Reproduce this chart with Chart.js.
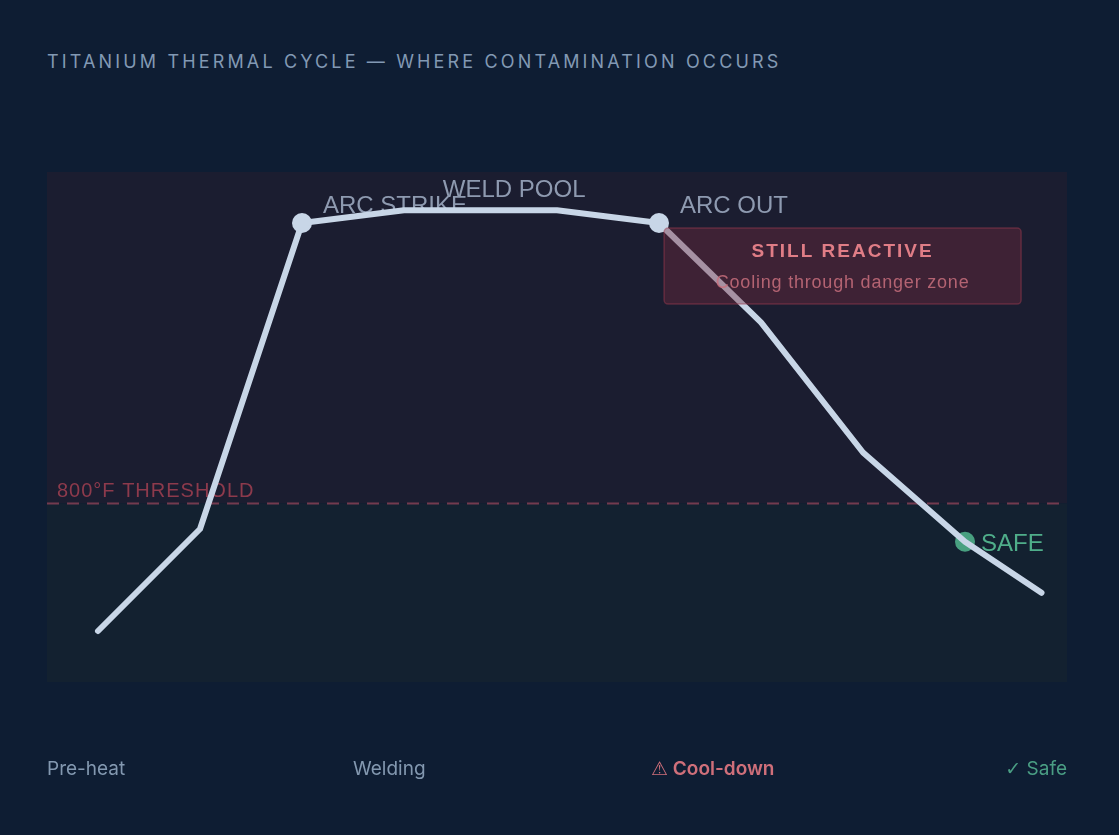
<!DOCTYPE html>
<html>
<head>
<meta charset="utf-8">
<script src="https://cdn.jsdelivr.net/npm/chart.js@4"></script>
<style>
  html, body { margin: 0; padding: 0; background: #0e1d33; }
  body { width: 1119px; height: 835px; position: relative; overflow: hidden; font-family: Inter, "Noto Sans", sans-serif; }
  #title { position: absolute; left: 47px; top: 51px; font-size: 18px; letter-spacing: 3.15px; color: #8299b3; white-space: nowrap; }
  #wrap { position: absolute; left: 0; top: 0; width: 1119px; height: 835px; }
  .phase { position: absolute; top: 757px; font-size: 19px; color: #8398b0; white-space: nowrap; }
  .cool { color: #cf6f7a; font-weight: 600; }
  .cool span { font-family: "DejaVu Sans", sans-serif; font-weight: normal; font-size: 19px; }
  .safe { color: #4a9e84; }
  .safe span { font-family: "DejaVu Sans", sans-serif; font-size: 19px; }
</style>
</head>
<body>
<div id="title">TITANIUM THERMAL CYCLE — WHERE CONTAMINATION OCCURS</div>
<div id="wrap"><canvas id="cycleChart"></canvas></div>
<div class="phase" style="left:47px">Pre-heat</div>
<div class="phase" style="left:353px">Welding</div>
<div class="phase cool" style="left:651px"><span>⚠</span> Cool-down</div>
<div class="phase safe" style="right:52px"><span>✓</span> Safe</div>
<script>
// position along the cycle (0-100) and relative heat (0-100)
const cycleX = [5, 15, 25, 35, 50, 60, 70, 80, 90, 97.5];
const heat = [10, 30, 90, 92.5, 92.5, 90, 70.5, 45, 27.5, 17.5];
const threshold = 35;

// marked events on the curve
const eventLabels = ['ARC STRIKE', 'ARC OUT', 'SAFE'];
const eventX = [25, 60, 90];
const eventY = [90, 90, 27.5];

const lineColor = '#c8d6e7';
const safeColor = '#4fae8a';

const zonesPlugin = {
    id: 'zones',
    beforeDatasetsDraw(chart) {
        const { ctx, chartArea: a, scales: { x, y } } = chart;
        const ty = y.getPixelForValue(threshold);
        ctx.save();
        // danger zone above threshold, safe zone below
        ctx.fillStyle = '#1b1d30';
        ctx.fillRect(a.left, a.top, a.right - a.left, ty - a.top);
        ctx.fillStyle = '#132130';
        ctx.fillRect(a.left, ty, a.right - a.left, a.bottom - ty);

        ctx.strokeStyle = 'rgba(150, 70, 90, 0.75)';
        ctx.lineWidth = 2;
        ctx.setLineDash([12, 8]);
        ctx.beginPath();
        ctx.moveTo(a.left, ty);
        ctx.lineTo(a.right, ty);
        ctx.stroke();
        ctx.setLineDash([]);

        ctx.font = '20px "Liberation Sans", Arial, sans-serif';
        ctx.letterSpacing = '1px';
        ctx.fillStyle = '#8d3a4c';
        ctx.textBaseline = 'alphabetic';
        ctx.fillText('800°F THRESHOLD', a.left + 10, ty - 7);
        ctx.letterSpacing = '0px';

        // point labels
        ctx.font = '24px "Liberation Sans", Arial, sans-serif';
        ctx.textBaseline = 'middle';
        ctx.fillStyle = '#8e9ab0';
        ctx.fillText(eventLabels[0], x.getPixelForValue(eventX[0]) + 21, y.getPixelForValue(eventY[0]) - 17);
        ctx.fillText(eventLabels[1], x.getPixelForValue(eventX[1]) + 21, y.getPixelForValue(eventY[1]) - 17);
        ctx.textAlign = 'center';
        ctx.fillText('WELD POOL', x.getPixelForValue(45.8), y.getPixelForValue(92.5) - 20);
        ctx.textAlign = 'left';
        ctx.fillStyle = safeColor;
        ctx.fillText(eventLabels[2], x.getPixelForValue(eventX[2]) + 16, y.getPixelForValue(eventY[2]) + 3);
        ctx.restore();
    },
    afterDatasetsDraw(chart) {
        const { ctx, scales: { x, y } } = chart;
        // callout box for the cool-down phase
        const bx = x.getPixelForValue(60.5), by = y.getPixelForValue(89);
        const bw = 357, bh = 76;
        ctx.save();
        ctx.beginPath();
        ctx.roundRect(bx, by, bw, bh, 4);
        ctx.fillStyle = 'rgba(115, 42, 62, 0.4)';
        ctx.fill();
        ctx.strokeStyle = 'rgba(160, 60, 80, 0.45)';
        ctx.lineWidth = 1.5;
        ctx.stroke();
        ctx.textAlign = 'center';
        ctx.textBaseline = 'middle';
        ctx.font = 'bold 19px "Liberation Sans", Arial, sans-serif';
        ctx.letterSpacing = '2px';
        ctx.fillStyle = '#e07d86';
        ctx.fillText('STILL REACTIVE', bx + bw / 2, by + 24);
        ctx.letterSpacing = '0.8px';
        ctx.font = '18px "Liberation Sans", Arial, sans-serif';
        ctx.fillStyle = 'rgba(200, 110, 125, 0.85)';
        ctx.fillText('Cooling through danger zone', bx + bw / 2, by + 55);
        ctx.restore();
    }
};

new Chart(document.getElementById('cycleChart'), {
    type: 'line',
    data: {
        datasets: [
            {
                data: cycleX.map((v, i) => ({ x: v, y: heat[i] })),
                borderColor: lineColor,
                borderWidth: 6,
                borderCapStyle: 'round',
                borderJoinStyle: 'round',
                pointRadius: 0,
                tension: 0,
                order: 0
            },
            {
                data: eventX.map((v, i) => ({ x: v, y: eventY[i] })),
                showLine: false,
                pointRadius: 10,
                pointBorderWidth: 0,
                pointBackgroundColor: [lineColor, lineColor, 'rgba(79, 174, 138, 0.9)'],
                order: 1
            }
        ]
    },
    options: {
        responsive: true,
        maintainAspectRatio: false,
        animation: false,
        layout: { padding: { left: 47, right: 52, top: 172, bottom: 153 } },
        plugins: { legend: { display: false }, tooltip: { enabled: false } },
        scales: {
            x: { type: 'linear', min: 0, max: 100, display: false },
            y: { min: 0, max: 100, display: false }
        }
    },
    plugins: [zonesPlugin]
});
</script>
</body>
</html>
